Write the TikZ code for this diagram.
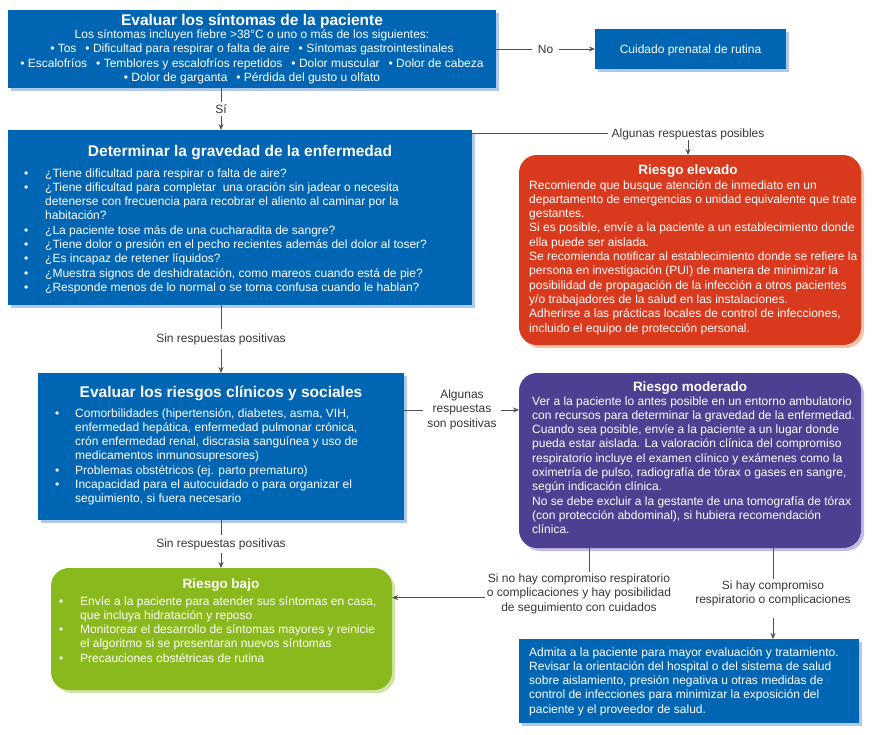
\documentclass[tikz,border=0pt]{standalone}
\usepackage{fontspec}
\setmainfont{Liberation Sans}
\usetikzlibrary{arrows.meta,shadows}
\definecolor{bxblue}{RGB}{0,101,179}
\definecolor{shblue}{RGB}{176,200,234}
\definecolor{bxred}{RGB}{217,58,30}
\definecolor{shred}{RGB}{246,196,168}
\definecolor{bxpurple}{RGB}{77,63,145}
\definecolor{shpurple}{RGB}{196,186,228}
\definecolor{bxgreen}{RGB}{138,185,30}
\definecolor{shgreen}{RGB}{208,228,165}
\definecolor{lnk}{RGB}{80,80,80}
\definecolor{lbltext}{RGB}{55,55,55}
\newcommand\bodyf{\fontsize{12}{14.3}\selectfont}
\newcommand\bigtitle{\fontsize{15.5}{18}\selectfont\bfseries}
\newcommand\risktitle{\fontsize{13.5}{16}\selectfont\bfseries}
\newcommand\lblf{\fontsize{12}{14.5}\selectfont}
\newcommand\bul{\textbullet}
\begin{document}
\begin{tikzpicture}[x=1pt,y=-1pt,
  sqbox/.style={rectangle, fill=bxblue, inner sep=0pt, outer sep=0pt,
     drop shadow={fill=shblue, opacity=1, shadow xshift=3pt, shadow yshift=-3pt}},
  rbox/.style={rectangle, rounded corners=18pt, inner sep=0pt, outer sep=0pt},
  redbox/.style={rbox, fill=bxred, drop shadow={fill=shred, opacity=1, shadow xshift=3pt, shadow yshift=-3pt}},
  purplebox/.style={rbox, fill=bxpurple, drop shadow={fill=shpurple, opacity=1, shadow xshift=3pt, shadow yshift=-3pt}},
  greenbox/.style={rbox, fill=bxgreen, drop shadow={fill=shgreen, opacity=1, shadow xshift=3pt, shadow yshift=-3pt}},
  wtxt/.style={text=white, inner sep=0pt},
  lbl/.style={text=lbltext, fill=white, inner sep=0pt, font=\lblf},
  link/.style={draw=lnk, line width=0.9pt},
  arr/.style={link, -{Stealth[length=6pt,width=5pt]}}
]
\useasboundingbox (0,0) rectangle (877,734);

% boxes
\node[sqbox, minimum width=488pt, minimum height=78pt] (b1) at (252,49) {};
\node[sqbox, minimum width=191pt, minimum height=40pt] (b2) at (690.5,49) {};
\node[sqbox, minimum width=464pt, minimum height=175pt] (b4) at (240,217.5) {};
\node[redbox, minimum width=342pt, minimum height=190pt] (red) at (690,250) {};
\node[sqbox, minimum width=366pt, minimum height=147pt] (b5) at (221,446.5) {};
\node[purplebox, minimum width=342pt, minimum height=175pt] (pur) at (690,460.5) {};
\node[greenbox, minimum width=341pt, minimum height=122pt] (grn) at (221.5,629) {};
\node[sqbox, minimum width=340pt, minimum height=84pt] (b7) at (689,681) {};

% texts
\node[wtxt, anchor=base] (t1) at (252,25.5) {\bigtitle Evaluar los síntomas de la paciente};
\node[wtxt, anchor=base] (t1b) at (252,38.5) {\bodyf\begin{tabular}[t]{@{}c@{}}
Los síntomas incluyen fiebre >38°C o uno o más de los siguientes:\\
\bul\ Tos\hspace{9pt}\bul\ Dificultad para respirar o falta de aire\hspace{9pt}\bul\ Síntomas gastrointestinales\\
\bul\ Escalofríos\hspace{9pt}\bul\ Temblores y escalofríos repetidos\hspace{9pt}\bul\ Dolor muscular\hspace{9pt}\bul\ Dolor de cabeza\\
\bul\ Dolor de garganta\hspace{9pt}\bul\ Pérdida del gusto u olfato
\end{tabular}};
\node[wtxt, anchor=base] (t2) at (690.5,53) {\bodyf Cuidado prenatal de rutina};

\node[wtxt, anchor=base] (t4) at (240,156.5) {\bigtitle Determinar la gravedad de la enfermedad};
\node[wtxt, anchor=base west] (t4b) at (24,177) {\bodyf\begin{tabular}[t]{@{}p{21pt}@{}l@{}}
\bul & ¿Tiene dificultad para respirar o falta de aire?\\
\bul & ¿Tiene dificultad para completar\ \ una oración sin jadear o necesita\\
 & detenerse con frecuencia para recobrar el aliento al caminar por la\\
 & habitación?\\
\bul & ¿La paciente tose más de una cucharadita de sangre?\\
\bul & ¿Tiene dolor o presión en el pecho recientes además del dolor al toser?\\
\bul & ¿Es incapaz de retener líquidos?\\
\bul & ¿Muestra signos de deshidratación, como mareos cuando está de pie?\\
\bul & ¿Responde menos de lo normal o se torna confusa cuando le hablan?
\end{tabular}};

\node[wtxt, anchor=base] (t6) at (688,174) {\risktitle Riesgo elevado};
\node[wtxt, anchor=base west] (t6b) at (529,189) {\bodyf\begin{tabular}[t]{@{}l@{}}
Recomiende que busque atención de inmediato en un\\
departamento de emergencias o unidad equivalente que trate\\
gestantes.\\
Si es posible, envíe a la paciente a un establecimiento donde\\
ella puede ser aislada.\\
Se recomienda notificar al establecimiento donde se refiere la\\
persona en investigación (PUI) de manera de minimizar la\\
posibilidad de propagación de la infección a otros pacientes\\
y/o trabajadores de la salud en las instalaciones.\\
Adherirse a las prácticas locales de control de infecciones,\\
incluido el equipo de protección personal.
\end{tabular}};

\node[wtxt, anchor=base] (t5) at (221,397.5) {\bigtitle Evaluar los riesgos clínicos y sociales};
\node[wtxt, anchor=base west] (t5b) at (55,417) {\bodyf\begin{tabular}[t]{@{}p{20pt}@{}l@{}}
\bul & Comorbilidades (hipertensión, diabetes, asma, VIH,\\
 & enfermedad hepática, enfermedad pulmonar crónica,\\
 & crón enfermedad renal, discrasia sanguínea y uso de\\
 & medicamentos inmunosupresores)\\
\bul & Problemas obstétricos (ej. parto prematuro)\\
\bul & Incapacidad para el autocuidado o para organizar el\\
 & seguimiento, si fuera necesario
\end{tabular}};

\node[wtxt, anchor=base] (t8) at (690,391) {\risktitle Riesgo moderado};
\node[wtxt, anchor=base west] (t8b) at (532,405) {\bodyf\begin{tabular}[t]{@{}l@{}}
Ver a la paciente lo antes posible en un entorno ambulatorio\\
con recursos para determinar la gravedad de la enfermedad.\\
Cuando sea posible, envíe a la paciente a un lugar donde\\
pueda estar aislada. La valoración clínica del compromiso\\
respiratorio incluye el examen clínico y exámenes como la\\
oximetría de pulso, radiografía de tórax o gases en sangre,\\
según indicación clínica.\\
No se debe excluir a la gestante de una tomografía de tórax\\
(con protección abdominal), si hubiera recomendación\\
clínica.
\end{tabular}};

\node[wtxt, anchor=base] (t9) at (221,588) {\risktitle Riesgo bajo};
\node[wtxt, anchor=base west] (t9b) at (59,605) {\bodyf\begin{tabular}[t]{@{}p{21pt}@{}l@{}}
\bul & Envíe a la paciente para atender sus síntomas en casa,\\
 & que incluya hidratación y reposo\\
\bul & Monitorear el desarrollo de síntomas mayores y reinicie\\
 & el algoritmo si se presentaran nuevos síntomas\\
\bul & Precauciones obstétricas de rutina
\end{tabular}};

\node[wtxt, anchor=base west] (t7) at (529,656) {\bodyf\begin{tabular}[t]{@{}l@{}}
Admita a la paciente para mayor evaluación y tratamiento.\\
Revisar la orientación del hospital o del sistema de salud\\
sobre aislamiento, presión negativa u otras medidas de\\
control de infecciones para minimizar la exposición del\\
paciente y el proveedor de salud.
\end{tabular}};

% connectors
\coordinate (cx) at (221,0);
\draw[arr] (b1.east) -- node[lbl, inner xsep=6pt]{No} (b2.west);
\draw[arr] (b1.south -| cx) -- node[lbl, inner ysep=3pt]{Sí} (b4.north -| cx);

\node[lbl, anchor=base] (la) at (688,137) {Algunas respuestas posibles};
\draw[link] (b4.east |- la.west) -- ([xshift=-3pt]la.west);
\draw[arr] (la.south) -- (red.north -| la.south);

\draw[arr] (b4.south -| cx) -- node[lbl, inner ysep=4pt]{Sin respuestas positivas} (b5.north -| cx);

\node[lbl, inner xsep=4pt] (lb) at (462,410) {\begin{tabular}{@{}c@{}}Algunas\\respuestas\\son positivas\end{tabular}};
\draw[link] (b5.east |- lb.west) -- (lb.west);
\draw[arr] (lb.east) -- (pur.west |- lb.east);

\draw[arr] (b5.south -| cx) -- node[lbl, inner ysep=3pt]{Sin respuestas positivas} (grn.north -| cx);

\coordinate (cl) at (589,0);
\node[lbl, anchor=base] (lc) at (579,582) {\begin{tabular}[t]{@{}c@{}}Si no hay compromiso respiratorio\\o complicaciones y hay posibilidad\\de seguimiento con cuidados\end{tabular}};
\coordinate (lcw) at ([yshift=-4pt, xshift=-2pt]lc.west);
\draw[link] (pur.south -| cl) -- (lc.north -| cl);
\draw[arr] (lcw) -- (grn.east |- lcw);

\coordinate (cr) at (773,0);
\node[lbl, anchor=base] (ld) at (773,589) {\begin{tabular}[t]{@{}c@{}}Si hay compromiso\\respiratorio o complicaciones\end{tabular}};
\coordinate (lds) at ([yshift=-10pt]ld.south -| cr);
\draw[link] (pur.south -| cr) -- (ld.north -| cr);
\draw[arr] (lds) -- (b7.north -| cr);
\end{tikzpicture}
\end{document}
